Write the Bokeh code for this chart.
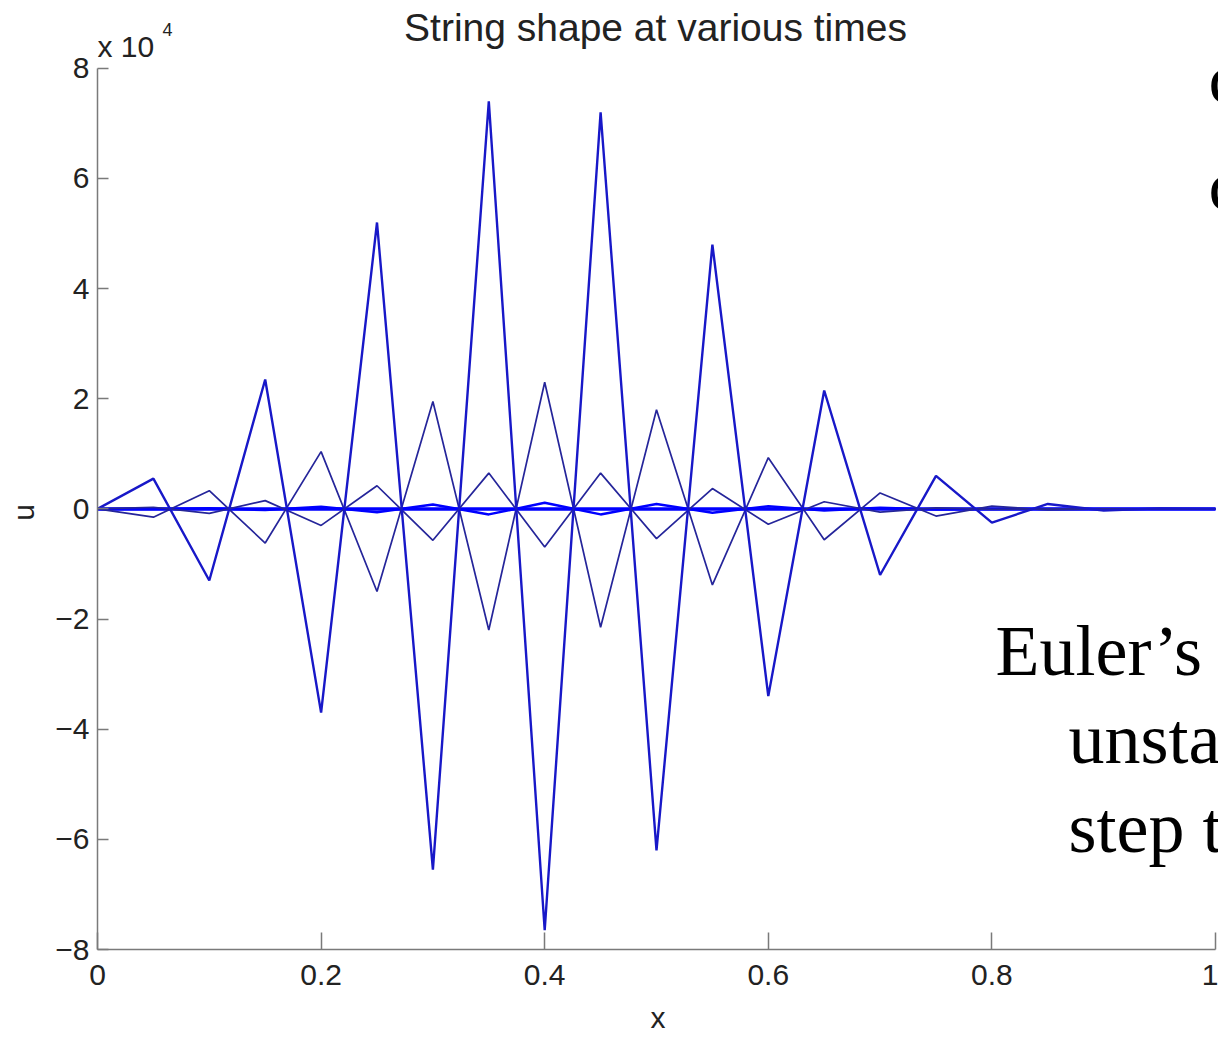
from bokeh.plotting import figure
from bokeh.models import Range1d, FixedTicker, Label
from bokeh.embed import file_html
from bokeh.resources import INLINE

# ---- data ----
x_grid = [0.0, 0.05, 0.1, 0.15, 0.2, 0.25, 0.3, 0.35, 0.4, 0.45, 0.5,
          0.55, 0.6, 0.65, 0.7, 0.75, 0.8, 0.85, 0.9, 0.95, 1.0]
u_late = [0, 5500, -13000, 23500, -37000, 52000, -65500, 74000, -76500, 72000, -62000,
          48000, -34000, 21500, -12000, 6000, -2500, 900, -300, 100, 0]
u_mid = [0, -1500, 3300, -6200, 10400, -15000, 19500, -22000, 23000, -21500, 18000,
         -13800, 9300, -5600, 2900, -1300, 500, -200, 0, 0, 0]
u_early = [0, 300, -800, 1500, -3000, 4200, -5700, 6500, -6900, 6500, -5400,
           3700, -2800, 1300, -600, 200, -100, 0, 0, 0, 0]
u_earlier = [0, 0, 100, -200, 400, -600, 800, -1000, 1100, -1000, 900,
             -700, 500, -300, 200, -100, 0, 0, 0, 0, 0]
u_initial = [0, 0, 0, 0, 0, 0, 0, 0, 0, 0, 0,
             0, 0, 0, 0, 0, 0, 0, 0, 0, 0]

x_ticks = [0, 0.2, 0.4, 0.6, 0.8, 1]
x_tick_labels = ["0", "0.2", "0.4", "0.6", "0.8", "1"]
y_ticks = [-80000, -60000, -40000, -20000, 0, 20000, 40000, 60000, 80000]
y_tick_labels = ["\u22128", "\u22126", "\u22124", "\u22122", "0", "2", "4", "6", "8"]

FONT = "Liberation Sans"
SERIF = "Liberation Serif"
W, H = 1218, 1036
# axes box in page pixels: x 0..1 -> 97..1215, u -8e4..8e4 -> 952..68
AX_L, AX_R, AX_T, AX_B = 97, 1215, 68, 952
X0, X1, Y0, Y1 = 0.0, 1.0, -80000.0, 80000.0
# the frame is extended to the top and right edges of the canvas so that the
# title and the exponent text can sit inside it (labels are clipped to the frame)
x_end = X1 + (X1 - X0) * (W - AX_R) / (AX_R - AX_L)
y_end = Y1 + (Y1 - Y0) * AX_T / (AX_B - AX_T)

p = figure(width=W, height=H, output_backend="svg", toolbar_location=None,
           x_range=Range1d(X0, x_end), y_range=Range1d(Y0, y_end),
           min_border_left=AX_L, min_border_right=0, min_border_top=0,
           min_border_bottom=H - AX_B)
p.outline_line_color = None
p.xgrid.visible = False
p.ygrid.visible = False
p.background_fill_color = "white"
p.border_fill_color = "white"

for ax, ticks, labels, tin, bounds, so in (
        (p.xaxis[0], x_ticks, x_tick_labels, 17, (X0, X1), 15),
        (p.yaxis[0], y_ticks, y_tick_labels, 11, (Y0, Y1), 8)):
    ax.bounds = bounds
    ax.ticker = FixedTicker(ticks=ticks)
    ax.major_label_overrides = {t: l for t, l in zip(ticks, labels)}
    ax.minor_tick_line_color = None
    ax.major_tick_in = tin
    ax.major_tick_out = 0
    ax.axis_line_color = "#7a7a7a"
    ax.axis_line_width = 1.5
    ax.major_tick_line_color = "#7a7a7a"
    ax.major_tick_line_width = 1.5
    ax.major_label_text_font = FONT
    ax.major_label_text_font_size = "30px"
    ax.major_label_text_color = "#222222"
    ax.major_label_standoff = so
    ax.axis_label_text_font = FONT
    ax.axis_label_text_font_size = "30px"
    ax.axis_label_text_font_style = "normal"
    ax.axis_label_text_color = "#222222"

p.xaxis[0].axis_label = "x"
p.xaxis[0].axis_label_standoff = 13
# the frame reaches the canvas top, so trailing no-break spaces move the
# rotated "u" down to the middle of the u axis
p.yaxis[0].axis_label = "u" + "\u00a0" * 9
p.yaxis[0].axis_label_standoff = 12

# ---- curves ----
p.line(x_grid, u_initial, line_color="#0000ff", line_width=3.5)
p.line(x_grid, u_earlier, line_color="#0000ff", line_width=2.5)
p.line(x_grid, u_early, line_color="#25259a", line_width=1.7)
p.line(x_grid, u_mid, line_color="#25259a", line_width=1.7)
p.line(x_grid, u_late, line_color="#1818c8", line_width=2.4)


# ---- texts (screen units are measured from the frame's bottom-left) ----
def screen_label(txt, px, py, size, font=FONT, align="left", color="#222222"):
    # Bokeh draws the alphabetic baseline about 0.3 em below the given y
    p.add_layout(Label(x=px - AX_L, y=AX_B - py + 0.3 * size, x_units="screen",
                       y_units="screen", text=txt, text_font=font,
                       text_font_size=f"{size}px", text_align=align,
                       text_baseline="alphabetic", text_color=color))


screen_label("String shape at various times", 655, 42, 39, align="center")
screen_label("x 10", 97, 58, 30)
screen_label("4", 162, 37, 18)

# slide text overlapping the figure
for txt, px, py in (("c", 1208, 103), ("c", 1208, 210), ("Euler\u2019s", 995, 675),
                    ("unsta", 1068, 763), ("step t", 1068, 852)):
    screen_label(txt, px, py, 72, font=SERIF, color="black")

open("out.html", "w").write(file_html(p, INLINE))
